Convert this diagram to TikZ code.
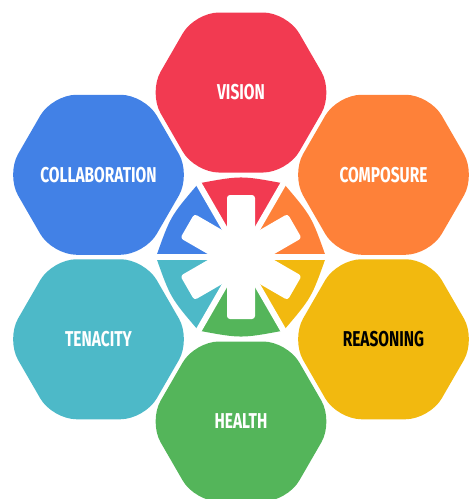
\documentclass[tikz,border=0pt]{standalone}
\usepackage{fontspec}
\newfontfamily\labelfont[FakeStretch=0.72]{Fira Sans}
\definecolor{cred}{HTML}{F23A51}
\definecolor{cblue}{HTML}{4281E6}
\definecolor{corange}{HTML}{FE8139}
\definecolor{cyellow}{HTML}{F2B90F}
\definecolor{cteal}{HTML}{4DB9C8}
\definecolor{cgreen}{HTML}{54B55A}
\tikzset{
  hexfill/.style={rounded corners=24pt},
  lbl/.style={font=\labelfont\bfseries\fontsize{21.5}{23}\selectfont, text=white, inner sep=0pt},
  gapline/.style={white, line width=6pt},
  armfill/.style={white, rounded corners=3pt},
}
\begin{document}
\begin{tikzpicture}[x=1pt,y=-1pt]
\useasboundingbox (0,0) rectangle (471,499);
% hexagons (flat top), apothem 80, circumradius 92.4
\foreach \cx/\cy/\col in {241/92.5/cred, 383.5/174.75/corange, 383.5/339.25/cyellow, 241/421.5/cgreen, 98.5/339.25/cteal, 98.5/174.75/cblue}{
  \fill[\col, hexfill] (\cx,\cy-80) -- (\cx+46.2,\cy-80) -- (\cx+92.4,\cy) -- (\cx+46.2,\cy+80)
     -- (\cx-46.2,\cy+80) -- (\cx-92.4,\cy) -- (\cx-46.2,\cy-80) -- cycle;
}
% central hub
\begin{scope}[shift={(241,257)}, yscale=-1]
  \foreach \a/\col in {0/corange, 60/cred, 120/cblue, 180/cteal, 240/cgreen, 300/cyellow}{
    \fill[\col] (0,0) -- (\a:85) .. controls (\a+30:81.5) .. (\a+60:85) -- cycle;
  }
  \foreach \a in {0,60,...,300}{
    \draw[gapline] (0,0) -- (\a:88);
  }
  \foreach \a in {30,90,...,330}{
    \fill[armfill, rotate=\a] (0,-14) rectangle (62,14);
  }
\end{scope}
% labels
\node[lbl] (vision) at (241,92.5) {VISION};
\node[lbl] (composure) at (383.5,174.75) {COMPOSURE};
\node[lbl, text=black] (reasoning) at (383.5,339.25) {REASONING};
\node[lbl] (health) at (241,421.5) {HEALTH};
\node[lbl] (tenacity) at (98.5,339.25) {TENACITY};
\node[lbl] (collaboration) at (98.5,174.75) {COLLABORATION};
\end{tikzpicture}
\end{document}
